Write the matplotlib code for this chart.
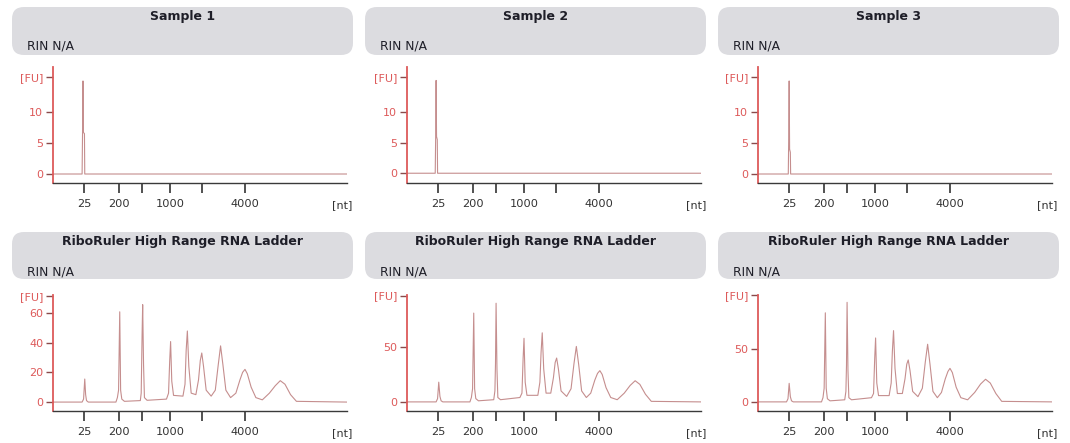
import matplotlib
matplotlib.use('Agg')
import matplotlib.pyplot as plt
from matplotlib.patches import FancyBboxPatch

# x axis is the migration position in % of the axis width
x_tick_pos = [10.6, 22.5, 30.2, 39.8, 50.6, 65.3]
x_tick_lab = ['25', '200', '', '1000', '', '4000']

titles = ['Sample 1', 'Sample 2', 'Sample 3',
          'RiboRuler High Range RNA Ladder', 'RiboRuler High Range RNA Ladder',
          'RiboRuler High Range RNA Ladder']
rin_text = 'RIN N/A'

# samples: only the 25 nt marker
sample1_x = [0, 9.9, 10.05, 10.2, 10.35, 10.7, 10.8, 100]
sample1_y = [0, 0, 6.7, 15.0, 6.7, 6.5, 0, 0]
sample2_x = [0, 9.6, 9.75, 9.9, 10.05, 10.3, 10.4, 100]
sample2_y = [0, 0, 6.0, 15.2, 6.0, 5.5, 0, 0]
sample3_x = [0, 10.3, 10.45, 10.6, 10.75, 11.0, 11.1, 100]
sample3_y = [0, 0, 6.0, 15.0, 4.0, 3.5, 0, 0]

# ladder traces (vertices)
ladder1_x = [0, 9.9, 10.4, 10.8, 11.1, 11.4, 12.0, 21.4, 21.9, 22.3, 22.7, 23.0, 23.4, 24.3,
             29.7, 30.0, 30.3, 30.5, 30.8, 31.1, 32.0, 38.6, 39.3, 39.7, 40.0, 40.4, 41.0,
             44.2, 44.9, 45.3, 45.7, 46.2, 47.0, 48.6, 49.5, 50.1, 50.6, 51.2, 52.1,
             53.8, 55.2, 56.2, 57.0, 57.8, 58.8, 60.4, 62.2, 63.6, 64.5, 65.3, 66.1, 67.4, 69.0,
             71.2, 73.6, 75.6, 77.3, 78.9, 80.8, 82.8, 100]
ladder1_y = [0, 0, 2, 15.5, 5, 1, 0, 0, 3, 8, 60.7, 8, 2, 0.5,
             1, 6, 45, 65.5, 25, 3, 1.2, 2, 6, 28, 40.7, 14, 4.5,
             4, 12, 35, 47.8, 24, 6, 5, 15, 28, 33, 24, 8,
             4, 8, 25, 37.8, 25, 8, 3, 6, 15, 20, 22, 19, 10, 3,
             1.5, 6, 11, 14.4, 12, 5, 0.5, 0]

ladder2_x = [0, 9.9, 10.4, 10.8, 11.2, 11.6, 12.2, 21.4, 21.9, 22.3, 22.7, 23.0, 23.4, 24.3,
             29.5, 29.9, 30.1, 30.3, 30.6, 30.9, 31.8, 38.4, 39.1, 39.5, 39.8, 40.2, 40.8,
             44.5, 45.2, 45.6, 46.0, 46.5, 47.3, 48.9, 49.8, 50.4, 50.9, 51.5, 52.4,
             54.3, 55.8, 56.8, 57.6, 58.4, 59.4, 61.0, 62.5, 63.9, 64.8, 65.6, 66.4, 67.7, 69.3,
             71.5, 73.9, 75.9, 77.6, 79.2, 81.1, 83.1, 100]
ladder2_y = [0, 0, 3, 18, 5, 1, 0, 0, 4, 12, 81, 12, 3, 1,
             2, 10, 35, 90, 30, 4, 2, 4, 8, 40, 58, 18, 6,
             6, 18, 45, 63, 30, 8, 8, 22, 36, 40, 30, 10,
             5, 12, 35, 50.6, 34, 10, 4, 8, 20, 26, 28.5, 25, 13, 4,
             2, 8, 15, 19.3, 16, 7, 0.5, 0]

ladder3_x = [0, 9.7, 10.2, 10.6, 11.0, 11.4, 12.0, 21.6, 22.1, 22.5, 22.9, 23.2, 23.6, 24.5,
             29.5, 29.9, 30.1, 30.3, 30.6, 30.9, 31.8, 38.6, 39.3, 39.7, 40.0, 40.4, 41.0,
             44.6, 45.3, 45.7, 46.1, 46.6, 47.4, 49.1, 50.0, 50.6, 51.1, 51.7, 52.6,
             54.4, 55.9, 56.9, 57.7, 58.5, 59.5, 61.0, 62.4, 63.7, 64.6, 65.3, 66.1, 67.4, 69.0,
             71.3, 73.7, 75.7, 77.4, 79.0, 80.9, 82.9, 100]
ladder3_y = [0, 0, 3, 17.7, 5, 1, 0, 0, 4, 13, 85, 13, 3, 1,
             2, 10, 35, 95, 30, 4, 2, 4, 8, 42, 61, 18, 6,
             6, 18, 48, 68, 32, 8, 8, 22, 36, 40, 30, 10,
             5, 13, 38, 55, 36, 10, 4, 9, 22, 29, 32, 28, 14, 4,
             2, 9, 17, 21.6, 18, 8, 0.5, 0]

traces = [(sample1_x, sample1_y), (sample2_x, sample2_y), (sample3_x, sample3_y),
          (ladder1_x, ladder1_y), (ladder2_x, ladder2_y), (ladder3_x, ladder3_y)]

# y range, labelled ticks and the [FU] tick per panel
y_limits = [(-1.45, 17.25), (-1.6, 17.4), (-1.45, 17.25),
            (-6.0, 72.0), (-8.3, 97.5), (-8.7, 102.0)]
y_ticks = [[0, 5, 10], [0, 5, 10], [0, 5, 10],
           [0, 20, 40, 60], [0, 50], [0, 50]]
fu_pos = [15.6, 15.8, 15.6, 71.6, 97.0, 101.6]

W, H = 1070, 443
fig = plt.figure(figsize=(W / 100, H / 100), dpi=100)

# header boxes, drawn in pixel units
over = fig.add_axes([0, 0, 1, 1])
over.set_xlim(0, W)
over.set_ylim(H, 0)
over.axis('off')
box_left = [12, 365, 718]
box_w = 341
rows = [(7, 48, 16, 46), (232, 47, 241, 272)]
for r, (by, bh, ty, ry) in enumerate(rows):
    for c in range(3):
        bx = box_left[c]
        over.add_patch(FancyBboxPatch((bx, by), box_w, bh,
                                      boxstyle='round,pad=0,rounding_size=12',
                                      fc='#dcdce0', ec='none'))
        over.text(bx + box_w / 2, ty, titles[r * 3 + c], ha='center', va='center',
                  fontsize=9, fontweight='bold', color='#1e1e28')
        over.text(bx + 15, ry, rin_text, ha='left', va='center',
                  fontsize=8.8, color='#1e1e28')

ax_left = [53, 407, 758]
ax_w = 294
ax_rows = [(67, 183), (295, 411)]
red = '#dd5a5a'
trace_col = '#c58e8e'

for r, (top, bot) in enumerate(ax_rows):
    for c in range(3):
        i = r * 3 + c
        ax = fig.add_axes([ax_left[c] / W, 1 - bot / H, ax_w / W, (bot - top) / H])
        xs, ys = traces[i]
        ax.plot(xs, ys, color=trace_col, lw=0.8)
        ax.set_xlim(0, 100)
        ax.set_ylim(*y_limits[i])
        ax.spines['top'].set_visible(False)
        ax.spines['right'].set_visible(False)
        ax.spines['left'].set_color(red)
        ax.spines['left'].set_linewidth(1.3)
        ax.spines['bottom'].set_color('#3a3a3a')
        ax.spines['bottom'].set_linewidth(1.0)
        ax.set_xticks(x_tick_pos)
        ax.set_xticklabels(x_tick_lab)
        ax.set_yticks(y_ticks[i] + [fu_pos[i]])
        ax.set_yticklabels([str(v) for v in y_ticks[i]] + ['[FU]'])
        ax.tick_params(axis='x', direction='out', length=7, width=1.2,
                       color='#333333', labelcolor='#333333', labelsize=8.2, pad=4.5)
        ax.tick_params(axis='y', direction='out', length=5, width=1.0,
                       color='#8a4a4a', labelcolor=red, labelsize=8, pad=2)
        ax.annotate('[nt]', xy=(0.985, 0), xycoords='axes fraction',
                    xytext=(0, -16), textcoords='offset points',
                    ha='center', va='center', fontsize=8, color='#333333')

fig.savefig('out.png', dpi=100)
